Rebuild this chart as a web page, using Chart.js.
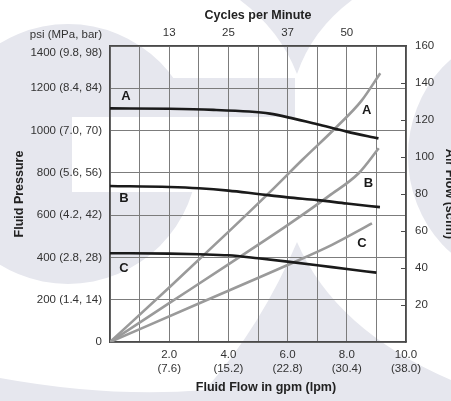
<!DOCTYPE html>
<html>
<head>
<meta charset="utf-8">
<script src="https://cdn.jsdelivr.net/npm/chart.js@4.4.0/dist/chart.umd.min.js"></script>
<style>
  html, body { margin: 0; padding: 0; background: #fff; }
</style>
</head>
<body>
<canvas id="grafico" width="451" height="401"></canvas>
<script>
// Fluid pressure (psi) vs fluid flow (gpm) - black curves
const flowA = [0, 2, 3.5, 4.7, 5.4, 6.1, 7, 8, 9.07];
const pressA = [1105, 1103, 1098, 1090, 1080, 1060, 1030, 995, 963];
const flowB = [0, 2, 3, 4, 5, 6, 7, 8, 9.12];
const pressB = [738, 733, 727, 716, 700, 684, 671, 655, 638];
const flowC = [0, 2, 3, 4, 5, 6, 7, 8, 9];
const pressC = [420, 418, 415, 410, 396, 380, 363, 345, 328];

// Air flow (scfm) vs fluid flow (gpm) - gray curves
const airFlowA = [0, 2, 4, 5.4, 6.5, 7.67, 8.5, 9.13];
const airA = [0, 29.5, 59.5, 81, 98.5, 116.5, 130.5, 145.3];
const airFlowB = [0, 2, 4, 6, 7.4, 8.4, 9.08];
const airB = [0, 21, 42, 63.2, 79, 91.2, 104.7];
const airFlowC = [0, 3, 6, 7.5, 8.85];
const airC = [0, 20.8, 41.6, 52.5, 64.1];

// Tick labels
const flowTicks = [2, 4, 6, 8, 10];
const gpmLabels = ["2.0", "4.0", "6.0", "8.0", "10.0"];
const lpmLabels = ["(7.6)", "(15.2)", "(22.8)", "(30.4)", "(38.0)"];
const cycleTicks = [2, 4, 6, 8];
const cycleLabels = ["13", "25", "37", "50"];
const pressureTicks = [0, 200, 400, 600, 800, 1000, 1200, 1400];
const pressureLabels = ["0", "200 (1.4, 14)", "400 (2.8, 28)", "600 (4.2, 42)", "800 (5.6, 56)",
  "1000 (7.0, 70)", "1200 (8.4, 84)", "1400 (9.8, 98)"];
const airTicks = [20, 40, 60, 80, 100, 120, 140, 160];

const toPoints = (xs, ys) => xs.map((x, i) => ({x: x, y: ys[i]}));

const tickFont = {family: "'Liberation Sans', Arial, sans-serif", size: 11.5};
const titleFont = {family: "'Liberation Sans', Arial, sans-serif", size: 12.5, weight: "bold"};
const tickColor = "#333";
const gridColor = "#7c7c7c";
const borderColor = "#4a4a4a";

// letters next to the curves (data coordinates, pressure axis)
const curveLetters = [
  {t: "A", x: 0.54, y: 1160}, {t: "B", x: 0.47, y: 681}, {t: "C", x: 0.47, y: 350},
  {t: "A", x: 8.67, y: 1094}, {t: "B", x: 8.73, y: 751}, {t: "C", x: 8.51, y: 467}
];

// faint logo behind the chart
const watermark = {
  id: "watermark",
  beforeDraw(chart) {
    const ctx = chart.ctx;
    ctx.save();
    ctx.fillStyle = "#fff";
    ctx.fillRect(0, 0, chart.width, chart.height);
    ctx.fillStyle = "#e6e7ee";
    // G ring
    ctx.beginPath();
    ctx.arc(68, 154, 130, 0, Math.PI * 2);
    ctx.fill();
    ctx.fillRect(160, 78, 135, 39);
    ctx.fillStyle = "#fff";
    ctx.fillRect(72, 117, 140, 75);
    ctx.fillStyle = "#e6e7ee";
    // top wedge
    ctx.beginPath();
    ctx.moveTo(240, 0);
    ctx.quadraticCurveTo(280, 30, 297, 74);
    ctx.quadraticCurveTo(312, 30, 352, 0);
    ctx.closePath();
    ctx.fill();
    // bottom wedge + strip
    ctx.beginPath();
    ctx.moveTo(0, 378);
    ctx.quadraticCurveTo(110, 398, 205, 390);
    ctx.quadraticCurveTo(262, 325, 297, 242);
    ctx.quadraticCurveTo(335, 330, 451, 380);
    ctx.lineTo(451, 401);
    ctx.lineTo(0, 401);
    ctx.closePath();
    ctx.fill();
    // right circle
    ctx.beginPath();
    ctx.ellipse(525, 156, 117, 125, 0, 0, Math.PI * 2);
    ctx.fill();
    ctx.restore();
  },
  afterDatasetsDraw(chart) {
    const ctx = chart.ctx;
    const {x, y} = chart.scales;
    ctx.save();
    ctx.fillStyle = "#1a1a1a";
    ctx.font = "bold 13px 'Liberation Sans', Arial, sans-serif";
    ctx.textAlign = "center";
    ctx.textBaseline = "middle";
    curveLetters.forEach((l) => {
      ctx.fillText(l.t, x.getPixelForValue(l.x), y.getPixelForValue(l.y));
    });
    ctx.restore();
  },
  afterDraw(chart) {
    const ctx = chart.ctx;
    const area = chart.chartArea;
    const y2 = chart.scales.y2;
    ctx.save();
    // small ticks inside the right border
    ctx.strokeStyle = borderColor;
    ctx.lineWidth = 1;
    airTicks.slice(0, -1).forEach((v) => {
      const py = Math.round(y2.getPixelForValue(v)) + 0.5;
      ctx.beginPath();
      ctx.moveTo(area.right - 5, py);
      ctx.lineTo(area.right, py);
      ctx.stroke();
    });
    // unit header over the left axis
    ctx.fillStyle = tickColor;
    ctx.font = "11.5px 'Liberation Sans', Arial, sans-serif";
    ctx.textAlign = "right";
    ctx.textBaseline = "middle";
    ctx.fillText("psi (MPa, bar)", area.left - 8, 35);
    // bottom title
    ctx.fillStyle = "#222";
    ctx.font = "bold 12.5px 'Liberation Sans', Arial, sans-serif";
    ctx.textAlign = "center";
    ctx.fillText("Fluid Flow in gpm (lpm)", 266, 388);
    ctx.restore();
  }
};

const blackLine = (pts) => ({
  data: pts, xAxisID: "x", yAxisID: "y",
  borderColor: "#1a1a1a", borderWidth: 2.6, pointRadius: 0,
  cubicInterpolationMode: "monotone", fill: false
});
const grayLine = (pts) => ({
  data: pts, xAxisID: "x", yAxisID: "y2",
  borderColor: "#9a9a9a", borderWidth: 2.6, pointRadius: 0,
  cubicInterpolationMode: "monotone", fill: false
});

const grafico = new Chart(document.querySelector("#grafico"), {
  type: "line",
  data: {
    datasets: [
      blackLine(toPoints(flowA, pressA)),
      blackLine(toPoints(flowB, pressB)),
      blackLine(toPoints(flowC, pressC)),
      grayLine(toPoints(airFlowA, airA)),
      grayLine(toPoints(airFlowB, airB)),
      grayLine(toPoints(airFlowC, airC))
    ]
  },
  options: {
    responsive: false,
    animation: false,
    layout: {padding: 0},
    plugins: {legend: {display: false}, tooltip: {enabled: false}},
    scales: {
      x: {
        type: "linear", position: "bottom", min: 0, max: 10,
        afterFit: (s) => { s.height = 59; },
        grid: {color: gridColor, lineWidth: 1, drawTicks: false},
        border: {color: borderColor, width: 1.5},
        ticks: {
          stepSize: 1, autoSkip: false, maxRotation: 0, padding: 6,
          font: tickFont, color: tickColor,
          callback: (v) => {
            const i = flowTicks.indexOf(v);
            return i >= 0 ? [gpmLabels[i], lpmLabels[i]] : "";
          }
        }
      },
      x2: {
        type: "linear", position: "top", min: 0, max: 10,
        afterFit: (s) => { s.height = 46; },
        grid: {display: false, drawTicks: false},
        border: {color: borderColor, width: 1.5},
        title: {display: true, text: "Cycles per Minute", font: titleFont, color: "#222", padding: {top: 8, bottom: 0}},
        ticks: {
          stepSize: 1, autoSkip: false, maxRotation: 0, padding: 6,
          font: tickFont, color: tickColor,
          callback: (v) => {
            const i = cycleTicks.indexOf(v);
            return i >= 0 ? cycleLabels[i] : "";
          }
        }
      },
      y: {
        type: "linear", position: "left", min: 0, max: 1400,
        afterFit: (s) => { s.width = 110; },
        grid: {color: gridColor, lineWidth: 1, drawTicks: false},
        border: {color: borderColor, width: 1.5},
        title: {display: true, text: "Fluid Pressure", font: titleFont, color: "#222", padding: {top: 12, bottom: 0}},
        ticks: {
          stepSize: 200, autoSkip: false, padding: 8,
          font: tickFont, color: tickColor,
          callback: (v) => {
            const i = pressureTicks.indexOf(v);
            if (i < 0) return "";
            // top label sits a little below the top border
            return v === 1400 ? ["", pressureLabels[i]] : pressureLabels[i];
          }
        }
      },
      y2: {
        type: "linear", position: "right", min: 0, max: 160,
        afterFit: (s) => { s.width = 45; },
        grid: {display: false, drawTicks: false},
        border: {color: borderColor, width: 1.5},
        title: {display: true, text: "Air Flow (scfm)", font: titleFont, color: "#222", padding: {top: -6, bottom: 0}},
        ticks: {
          stepSize: 20, autoSkip: false, padding: 9,
          font: tickFont, color: tickColor,
          callback: (v) => airTicks.indexOf(v) >= 0 ? String(v) : ""
        }
      }
    }
  },
  plugins: [watermark]
});
</script>
</body>
</html>
